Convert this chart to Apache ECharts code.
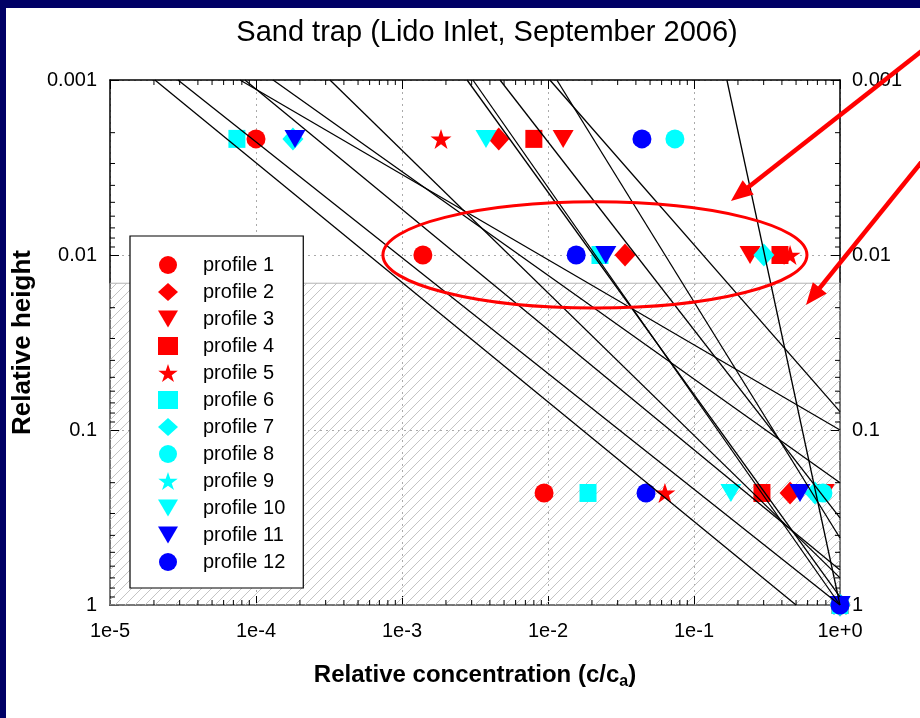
<!DOCTYPE html>
<html>
<head>
<meta charset="utf-8">
<script src="https://cdn.jsdelivr.net/npm/echarts@6/dist/echarts.min.js"></script>
<style>
  html, body { margin: 0; padding: 0; background: #fff; }
  #chart { position: absolute; left: 0; top: 0; width: 920px; height: 718px; }
</style>
</head>
<body>
<div id="chart"></div>
<script>
// Sampling heights (relative height) at which each profile was measured
const heights = [0.00217, 0.01, 0.229, 1];

// Relative concentration c/ca of each profile at the heights above (null = no sample)
const profile1  = [1.0e-4, 1.39e-3, 9.4e-3, 1];
const profile2  = [4.6e-3, 0.0337, 0.455, 1];
const profile3  = [0.0127, 0.242, 0.78, 1];
const profile4  = [8.0e-3, 0.388, 0.292, 1];
const profile5  = [1.85e-3, 0.455, 0.0632, 1];
const profile6  = [7.4e-5, 0.0227, 0.0188, 1];
const profile7  = [1.79e-4, 0.301, 0.674, 1];
const profile8  = [0.074, null, 0.764, 1];
const profile9  = [null, null, 0.72, 1];
const profile10 = [3.76e-3, null, 0.179, 1];
const profile11 = [1.85e-4, 0.0249, 0.532, 1];
const profile12 = [0.044, 0.0156, 0.0469, 1];

const profileNames = ['profile 1', 'profile 2', 'profile 3', 'profile 4', 'profile 5', 'profile 6',
  'profile 7', 'profile 8', 'profile 9', 'profile 10', 'profile 11', 'profile 12'];
const profileValues = [profile1, profile2, profile3, profile4, profile5, profile6,
  profile7, profile8, profile9, profile10, profile11, profile12];

// Theoretical profiles: start / end points [c/ca, relative height]
const fitStart = [
  [2.03e-5, 0.001], [2.92e-5, 0.001], [7.77e-5, 0.001], [8.4e-5, 0.001],
  [1.31e-4, 0.001], [3.21e-4, 0.001], [2.79e-3, 0.001], [3.06e-3, 0.001],
  [4.69e-3, 0.001], [0.0103, 0.001], [0.0115, 0.001], [0.168, 0.001]
];
const fitEnd = [
  [0.5, 1], [1, 1], [1, 0.1], [1, 0.63],
  [1, 0.2], [1, 0.70], [1, 0.9], [1, 1],
  [1, 0.318], [1, 0.0785], [1, 0.414], [1, 1]
];

// Lower edge of the clean-water zone (hatched below)
const hatchTop = 0.0145;

// Axis extents
const xMin = 1e-5, xMax = 1;
const yMin = 0.001, yMax = 1;

// Annotation anchors in data space
const ellipseLeft = [7.4e-4, 0.01], ellipseRight = [0.594, 0.01];
const ellipseTop = 0.00497, ellipseBottom = 0.0201;
const arrowA = { from: [4.9, 5.6e-4], to: [0.179, 0.00491] };
const arrowB = { from: [6.6, 0.00158], to: [0.585, 0.0193] };

// ---- styling ----
const RED = '#ff0000', CYAN = '#00ffff', BLUE = '#0000ff';
const downTri = 'path://M0,0 L20,0 L10,17 Z';
const star = 'path://M50,0 L61.8,35.4 L100,35.4 L69.1,57.3 L80.9,92.7 L50,70.8 L19.1,92.7 L30.9,57.3 L0,35.4 L38.2,35.4 Z';
const markerStyle = [
  { color: RED, symbol: 'circle', size: 19 },
  { color: RED, symbol: 'diamond', size: [21, 23] },
  { color: RED, symbol: downTri, size: [21, 18] },
  { color: RED, symbol: 'rect', size: [17, 18] },
  { color: RED, symbol: star, size: [21, 20] },
  { color: CYAN, symbol: 'rect', size: [17, 18] },
  { color: CYAN, symbol: 'diamond', size: [21, 23] },
  { color: CYAN, symbol: 'circle', size: 19 },
  { color: CYAN, symbol: star, size: [21, 20] },
  { color: CYAN, symbol: downTri, size: [21, 18] },
  { color: BLUE, symbol: downTri, size: [21, 18] },
  { color: BLUE, symbol: 'circle', size: 19 }
];
const FONT = '"Liberation Sans", Arial, Helvetica, sans-serif';

// Hatch pattern for the shaded zone
const hatch = document.createElement('canvas');
hatch.width = 10; hatch.height = 10;
(function () {
  const g = hatch.getContext('2d');
  g.strokeStyle = '#c4c4c4';
  g.lineWidth = 1;
  g.beginPath();
  g.moveTo(-1, 11); g.lineTo(11, -1);
  g.moveTo(-6, 6); g.lineTo(6, -6);
  g.moveTo(4, 16); g.lineTo(16, 4);
  g.stroke();
})();

function expOf(v) { return Math.round(Math.log10(v)); }
function xLabel(v) { const e = expOf(v); return '1e' + (e >= 0 ? '+' : '') + e; }
function yLabel(v) { const e = expOf(v); return e >= 0 ? String(Math.pow(10, e)) : Math.pow(10, e).toFixed(-e); }

// Minor ticks of the log axes: [x, y, dirX, dirY]
const minorTicks = [];
for (let e = -5; e < 0; e++) {
  for (let k = 2; k <= 9; k++) {
    const v = k * Math.pow(10, e);
    minorTicks.push([v, yMax, 0, -1]);
    minorTicks.push([v, yMin, 0, 1]);
  }
}
for (let e = -3; e < 0; e++) {
  for (let k = 2; k <= 9; k++) {
    const v = k * Math.pow(10, e);
    minorTicks.push([xMin, v, 1, 0]);
    minorTicks.push([xMax, v, -1, 0]);
  }
}

const axisCommon = {
  type: 'log', logBase: 10,
  axisLine: { show: true, onZero: false, lineStyle: { color: '#000', width: 1.5 } },
  axisTick: { show: true, inside: true, length: 9, lineStyle: { color: '#000', width: 1 } },
  minorTick: { show: false },
};

const series = [];

// hatched zone
series.push({
  type: 'line', data: [], silent: true, z: 1,
  markArea: {
    silent: true,
    itemStyle: { color: { image: hatch, repeat: 'repeat' }, borderColor: '#b4b4b4', borderWidth: 1 },
    data: [[{ coord: [xMin, hatchTop] }, { coord: [xMax, yMax] }]]
  }
});

// minor ticks
series.push({
  type: 'custom', silent: true, z: 1,
  data: minorTicks,
  encode: { x: 0, y: 1 },
  renderItem: function (params, api) {
    const p = api.coord([api.value(0), api.value(1)]);
    const len = 5;
    return {
      type: 'line',
      shape: { x1: p[0], y1: p[1], x2: p[0] + api.value(2) * len, y2: p[1] + api.value(3) * len },
      style: { stroke: '#000', lineWidth: 1 }
    };
  }
});

// measured profiles
profileValues.forEach(function (vals, i) {
  const st = markerStyle[i];
  const pts = [];
  vals.forEach(function (c, j) { if (c !== null) pts.push([c, heights[j]]); });
  series.push({
    name: profileNames[i], type: 'scatter', z: 2,
    symbol: st.symbol, symbolSize: st.size,
    itemStyle: { color: st.color, opacity: 1 },
    data: pts
  });
});

// theoretical profiles
fitStart.forEach(function (s, i) {
  series.push({
    type: 'line', z: 3, silent: true, symbol: 'none',
    lineStyle: { color: '#000', width: 1.3 },
    data: [s, fitEnd[i]]
  });
});

const option = {
  animation: false,
  backgroundColor: '#fff',
  title: {
    text: 'Sand trap (Lido Inlet, September 2006)',
    left: 482, top: 13, textAlign: 'center',
    textStyle: { fontFamily: FONT, fontSize: 29, fontWeight: 'normal', color: '#000' }
  },
  grid: { left: 110, right: 80, top: 80, bottom: 113, containLabel: false },
  legend: {
    orient: 'vertical', left: 130, top: 236, z: 10,
    data: profileNames,
    backgroundColor: '#fff', borderColor: '#000', borderWidth: 1.2,
    padding: [19, 18, 16, 28],
    itemWidth: 20, itemHeight: 18, itemGap: 7,
    textStyle: { fontFamily: FONT, fontSize: 20, color: '#000', lineHeight: 18, padding: [0, 0, 0, 20] },
    selectedMode: false
  },
  xAxis: [
    Object.assign({}, axisCommon, {
      position: 'bottom', min: xMin, max: xMax,
      name: '{t|Relative concentration (c/c}{s|a}{t|)}',
      nameLocation: 'middle', nameGap: 55,
      nameTextStyle: {
        rich: {
          t: { fontFamily: FONT, fontSize: 24, fontWeight: 'bold', color: '#000' },
          s: { fontFamily: FONT, fontSize: 16, fontWeight: 'bold', color: '#000', padding: [14, 0, 0, 0] }
        }
      },
      axisLabel: { fontFamily: FONT, fontSize: 20, color: '#000', margin: 16, formatter: xLabel },
      splitLine: { show: true, lineStyle: { color: '#aaaaaa', width: 1, type: [2, 4] } }
    }),
    Object.assign({}, axisCommon, {
      position: 'top', min: xMin, max: xMax,
      axisLabel: { show: false }, splitLine: { show: false }
    })
  ],
  yAxis: [
    Object.assign({}, axisCommon, {
      position: 'left', inverse: true, min: yMin, max: yMax,
      name: 'Relative height', nameLocation: 'middle', nameGap: 73, nameRotate: 90,
      nameTextStyle: { fontFamily: FONT, fontSize: 26, fontWeight: 'bold', color: '#000' },
      axisLabel: { fontFamily: FONT, fontSize: 20, color: '#000', margin: 13, formatter: yLabel },
      splitLine: { show: true, lineStyle: { color: '#aaaaaa', width: 1, type: [2, 4] } }
    }),
    Object.assign({}, axisCommon, {
      position: 'right', inverse: true, min: yMin, max: yMax,
      axisLabel: { fontFamily: FONT, fontSize: 20, color: '#000', margin: 12, formatter: yLabel },
      splitLine: { show: false }
    })
  ],
  series: series
};

const chart = echarts.init(document.getElementById('chart'));
chart.setOption(option);

// ---- annotations anchored to data space ----
function px(pt) { return chart.convertToPixel({ xAxisIndex: 0, yAxisIndex: 0 }, pt); }

function arrow(a) {
  const p = px(a.from), q = px(a.to);
  const dx = q[0] - p[0], dy = q[1] - p[1];
  const L = Math.hypot(dx, dy), ux = dx / L, uy = dy / L;
  const head = 22, half = 9;
  const bx = q[0] - ux * head, by = q[1] - uy * head;
  return [
    { type: 'line', z: 20, silent: true,
      shape: { x1: p[0], y1: p[1], x2: bx + ux * 2, y2: by + uy * 2 },
      style: { stroke: RED, lineWidth: 4.5 } },
    { type: 'polygon', z: 20, silent: true,
      shape: { points: [[q[0], q[1]], [bx - uy * half, by + ux * half], [bx + uy * half, by - ux * half]] },
      style: { fill: RED } }
  ];
}

const eL = px(ellipseLeft), eR = px(ellipseRight);
const eT = px([ellipseLeft[0], ellipseTop]), eB = px([ellipseLeft[0], ellipseBottom]);

chart.setOption({
  graphic: [
    { type: 'ellipse', z: 20, silent: true,
      shape: { cx: (eL[0] + eR[0]) / 2, cy: (eT[1] + eB[1]) / 2, rx: (eR[0] - eL[0]) / 2, ry: (eB[1] - eT[1]) / 2 },
      style: { fill: null, stroke: RED, lineWidth: 3 } }
  ].concat(arrow(arrowA), arrow(arrowB)).concat([
    // frame band along the top and left edges of the figure
    { type: 'rect', z: 30, silent: true, shape: { x: 0, y: 0, width: 920, height: 8 }, style: { fill: '#000066' } },
    { type: 'rect', z: 30, silent: true, shape: { x: 0, y: 0, width: 6, height: 718 }, style: { fill: '#000066' } }
  ])
});
</script>
</body>
</html>
